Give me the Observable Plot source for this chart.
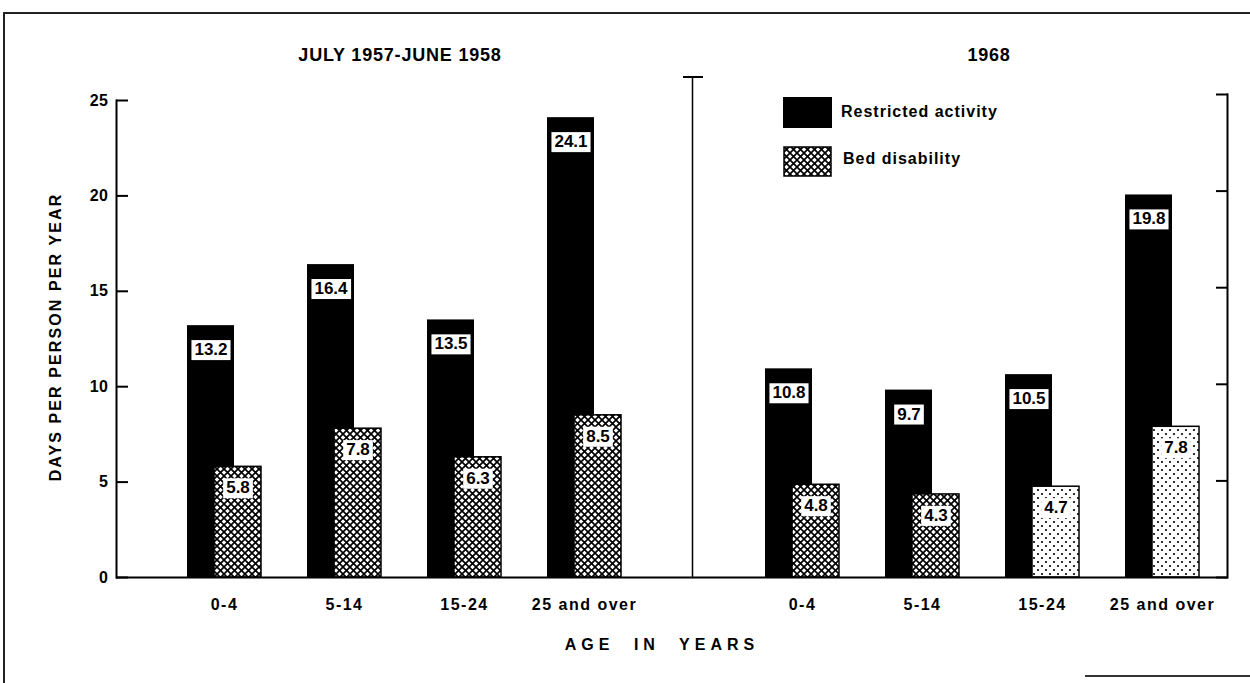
<!DOCTYPE html>
<html>
<head>
<meta charset="utf-8">
<script src="https://cdn.jsdelivr.net/npm/d3@7"></script>
<script src="https://cdn.jsdelivr.net/npm/@observablehq/plot@0.6"></script>
<style>
html, body { margin: 0; padding: 0; background: #fff; }
#root { position: relative; width: 1250px; height: 683px; overflow: hidden;
  font-family: "Liberation Sans", Arial, sans-serif; font-weight: bold; color: #000; }
.abs { position: absolute; white-space: nowrap; }
.panel { position: absolute; top: 0; }
.panel svg { overflow: visible; }
.panel [aria-label="x-axis tick label"] text { letter-spacing: 1.5px; }
.panel [aria-label="y-axis tick label"] text { letter-spacing: 0.5px; }
.title { font-size: 18px; letter-spacing: 0.8px; transform: translateX(-50%); }
.legtext { font-size: 16px; letter-spacing: 1px; }
</style>
</head>
<body>
<div id="root">
  <svg width="0" height="0" style="position:absolute">
    <defs>
      <pattern id="xhatch" patternUnits="userSpaceOnUse" width="7" height="7">
        <rect width="7" height="7" fill="white"/>
        <path d="M0,0 L7,7 M7,0 L0,7" stroke="black" stroke-width="1.7"/>
      </pattern>
      <pattern id="dots" patternUnits="userSpaceOnUse" width="8" height="8">
        <rect width="8" height="8" fill="white"/>
        <circle cx="2" cy="2" r="1.1" fill="black"/>
        <circle cx="6" cy="6" r="1.1" fill="black"/>
      </pattern>
    </defs>
  </svg>
</div>
<script>
// ---------- data ----------
const ages = ["0-4", "5-14", "15-24", "25 and over"];
const periods = ["JULY 1957-JUNE 1958", "1968"];
const restricted1958 = [13.2, 16.4, 13.5, 24.1];
const bed1958 = [5.8, 7.8, 6.3, 8.5];
const restricted1968 = [10.8, 9.7, 10.5, 19.8];
const bed1968 = [4.8, 4.3, 4.7, 7.8];
const yTicks = [0, 5, 10, 15, 20, 25];
const seriesNames = ["Restricted activity", "Bed disability"];
const yLabel = "DAYS PER PERSON PER YEAR";
const xLabel = "AGE IN YEARS";

const rows1958 = ages.map((age, i) => ({period: periods[0], age, restricted: restricted1958[i], bed: bed1958[i]}));
const rows1968 = ages.map((age, i) => ({period: periods[1], age, restricted: restricted1968[i], bed: bed1968[i]}));

// the printed 1968 panel shows a dotted screen on its two oldest groups
const bedFill = d => (d.period === periods[1] && (d.age === ages[2] || d.age === ages[3])) ? "url(#dots)" : "url(#xhatch)";

function panel(rows, o) {
  const side = o.side;
  return Plot.plot({
    width: o.width, height: 683,
    marginLeft: o.marginLeft, marginRight: o.marginRight,
    marginTop: o.marginTop, marginBottom: 106,
    x: {domain: ages, paddingInner: 0.387, paddingOuter: o.paddingOuter, align: o.align, label: null},
    y: {domain: [0, 25], label: null},
    style: {fontFamily: "Liberation Sans, Arial, sans-serif", fontWeight: "bold", background: "transparent", color: "black"},
    marks: [
      Plot.barY(rows, {x: "age", y: "restricted", fill: "black", insetRight: 27}),
      Plot.barY(rows, {x: "age", y: "bed", fill: bedFill, stroke: "black", strokeWidth: 1.5, insetLeft: 27}),
      Plot.ruleY([0], {stroke: "black", strokeWidth: 2}),
      Plot.frame({anchor: side, stroke: "black", strokeWidth: 2}),
      ...(side === "left" ? [Plot.frame({anchor: "right", stroke: "black", strokeWidth: 1.5, insetTop: -23})] : []),
      Plot.axisY({anchor: side, ticks: yTicks, tickSize: -12, tickFormat: () => "", strokeWidth: 2}),
      ...(side === "left" ? [Plot.axisY({anchor: "left", ticks: yTicks, tickSize: 0, tickPadding: 8, fontSize: 16, label: null})] : []),
      Plot.axisX({anchor: "bottom", tickSize: 0, tickPadding: 21, fontSize: 16, label: null}),
      Plot.text(rows, {x: "age", y: "restricted", text: d => d.restricted.toFixed(1), dx: -13.5, dy: 24,
        fontSize: 17, fontWeight: "bold", fill: "black"}),
      Plot.text(rows, {x: "age", y: "bed", text: d => d.bed.toFixed(1), dx: 13.5, dy: 21,
        fontSize: 17, fontWeight: "bold", fill: "black"})
    ]
  });
}

const root = document.getElementById("root");

const leftWrap = document.createElement("div");
leftWrap.className = "panel"; leftWrap.style.left = "0px";
leftWrap.appendChild(panel(rows1958, {side: "left", width: 692, marginLeft: 116, marginRight: 0, marginTop: 100, paddingOuter: 0.58, align: 0.5}));
root.appendChild(leftWrap);

const rightWrap = document.createElement("div");
rightWrap.className = "panel"; rightWrap.style.left = "692px";
rightWrap.appendChild(panel(rows1968, {side: "right", width: 558, marginLeft: 0, marginRight: 23, marginTop: 94, paddingOuter: 0.42, align: 0.72}));
root.appendChild(rightWrap);

// white boxes behind the value labels
const ns = "http://www.w3.org/2000/svg";
document.querySelectorAll('.panel g[aria-label="text"] text').forEach(t => {
  const b = t.getBBox();
  const r = document.createElementNS(ns, "rect");
  r.setAttribute("x", b.x - 3);
  r.setAttribute("y", b.y);
  r.setAttribute("width", b.width + 6);
  r.setAttribute("height", b.height + 1);
  r.setAttribute("fill", "white");
  const tr = t.getAttribute("transform");
  if (tr) r.setAttribute("transform", tr);
  t.parentNode.insertBefore(r, t);
});

// ---------- text and decorations ----------
function addDiv(html, css, cls) {
  const d = document.createElement("div");
  d.className = "abs" + (cls ? " " + cls : "");
  d.innerHTML = html;
  Object.assign(d.style, css);
  root.appendChild(d);
  return d;
}
// frame of the figure
addDiv("", {left: "3px", top: "12px", width: "1247px", height: "0", borderTop: "2px solid #222"});
addDiv("", {left: "3px", top: "12px", width: "0", height: "671px", borderLeft: "2px solid #222"});
addDiv("", {left: "1085px", top: "675px", width: "165px", height: "0", borderTop: "2px solid #333"});
// divider top bar
addDiv("", {left: "683px", top: "76px", width: "20px", height: "0", borderTop: "2px solid #000"});

// panel titles
addDiv(periods[0], {left: "400px", top: "45px"}, "title");
addDiv(periods[1], {left: "989px", top: "45px"}, "title");

// y label
addDiv(yLabel, {left: "56px", top: "337px", fontSize: "16px", letterSpacing: "2.1px",
  transform: "translate(-50%, -50%) rotate(-90deg)"});
// x label
addDiv(xLabel, {left: "662px", top: "636px", fontSize: "16px", letterSpacing: "5px", wordSpacing: "10px",
  transform: "translateX(-50%)"});

// legend
addDiv(`<svg width="49" height="31"><rect x="0" y="0" width="49" height="31" fill="black"/></svg>`,
  {left: "783px", top: "97px", lineHeight: "0"});
addDiv(`<svg width="49" height="31"><rect x="1" y="1" width="47" height="29" fill="url(#xhatch)" stroke="black" stroke-width="1.5"/></svg>`,
  {left: "783px", top: "146px", lineHeight: "0"});
addDiv(seriesNames[0], {left: "841px", top: "103px"}, "legtext");
addDiv(seriesNames[1], {left: "843px", top: "150px"}, "legtext");
</script>
</body>
</html>
